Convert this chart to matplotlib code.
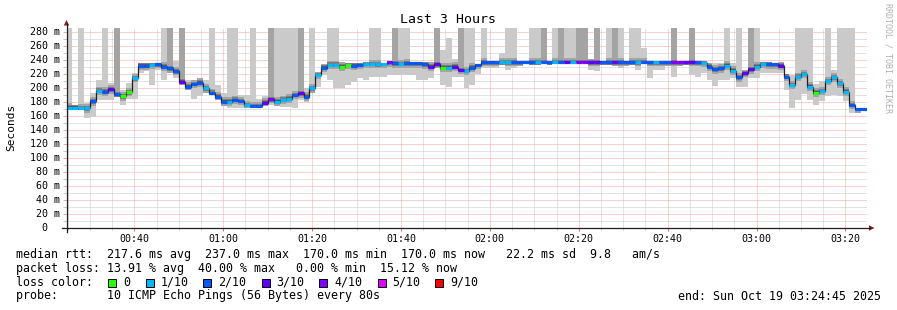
import matplotlib
matplotlib.use("Agg")
import matplotlib.pyplot as plt
import numpy as np
from matplotlib.lines import Line2D
from matplotlib.patches import Polygon, Rectangle
from matplotlib.ticker import FixedLocator, NullFormatter

W, H = 897, 310
MONO = "DejaVu Sans Mono"

# ---------------- data ----------------
start_min = 24.75          # 00:24:45
step_min = 80 / 60         # one sample every 80 s

median = [172, 172, 171, 171, 181, 196, 195, 198, 191, 188,
          194, 214, 232, 232, 233, 234, 230.5, 228, 224, 209,
          202, 205.7, 207.6, 199.5, 193, 187.6, 180.5, 180.5, 183, 181.4,
          175.7, 174.3, 174.3, 179, 184, 180.5, 183, 185, 190, 192.4,
          187.6, 199.5, 218.6, 229, 233, 233, 230.5, 233, 232, 233,
          234.3, 234.3, 234, 234.3, 236.6, 235.2, 234.3, 235.2, 235.2, 235.2,
          233.8, 230.5, 233.8, 229, 229, 230.5, 225.7, 224.3, 229, 232.9,
          237, 237, 237, 237, 237, 237, 237, 237, 237, 237,
          237, 237, 237, 237, 237, 237, 237, 237, 237, 237,
          237, 237, 237, 237, 237, 237, 237, 237, 237, 237,
          237, 237, 237, 237, 237, 237, 237, 236, 230.5, 226.7,
          228, 232, 224.8, 215.2, 221, 226.7, 230.5, 234.3, 233.8, 233.8,
          232, 216, 204.3, 216, 220, 202, 193.3, 195.7, 210, 215.2,
          206.7, 194.8, 175.7, 170, 170]

loss = [1, 1, 1, 1, 2, 1, 2, 3, 2, 0,
        0, 1, 2, 2, 1, 2, 2, 2, 2, 3,
        2, 2, 2, 1, 2, 2, 2, 1, 2, 2,
        1, 2, 2, 3, 4, 1, 1, 1, 2, 3,
        2, 1, 1, 2, 1, 1, 0, 0, 2, 2,
        1, 1, 1, 1, 4, 2, 1, 2, 2, 2,
        2, 3, 3, 0, 1, 3, 3, 1, 2, 2,
        2, 2, 2, 1, 1, 2, 2, 2, 2, 1,
        2, 2, 1, 2, 3, 1, 4, 4, 3, 3,
        2, 2, 3, 2, 2, 2, 1, 2, 2, 1,
        2, 2, 4, 4, 3, 3, 2, 1, 2, 2,
        2, 1, 1, 2, 3, 3, 1, 1, 2, 2,
        3, 2, 1, 1, 1, 1, 0, 1, 1, 1,
        1, 1, 2, 2, 2]

ping_lo = [169, 169, 169, 157, 159, 183, 183, 183, 187, 176,
           185, 185, 221, 224, 204, 226, 211, 222, 214, 204,
           197, 185, 188, 193, 190, 183, 174, 171, 171, 172,
           171, 171, 171, 174, 176, 174, 173, 173, 172, 183,
           179.5, 193, 202, 218.6, 211, 199.5, 199.5, 204, 209, 214,
           211, 216, 216, 216, 218.6, 218.6, 219, 219, 219, 211,
           211, 214, 228, 204, 202, 216, 216, 200, 205, 220,
           228, 228, 228, 233, 226, 229, 231, 234, 233, 233,
           235, 233, 234, 234, 235, 235, 236, 236, 226, 224,
           233, 233, 231, 229, 231, 233, 226, 234, 214, 226,
           226, 231, 215, 231, 233, 218.6, 216, 221, 211, 203,
           211, 211, 214, 202, 202, 214, 214, 221, 221, 221,
           221, 197, 171, 183, 192, 183, 176, 181, 188, 190,
           188, 181, 165, 165, 167]

ping_hi = [300, 176, 300, 178, 193, 211, 300, 207, 300, 197,
           207, 222, 235, 236, 236, 236, 300, 300, 238, 300,
           211, 211, 214, 211, 300, 204, 193, 300, 300, 190,
           190, 300, 184, 188, 300, 300, 300, 300, 300, 300,
           199.5, 300, 223, 234, 300, 300, 237, 236, 236, 236,
           237, 300, 300, 236, 239, 300, 300, 300, 237, 237,
           237, 237, 300, 254, 271, 242, 300, 300, 300, 234,
           300, 238, 238, 250, 300, 300, 238, 238, 300, 300,
           300, 238, 300, 300, 300, 300, 300, 300, 242, 300,
           238, 300, 300, 300, 238, 300, 300, 257, 238, 238,
           238, 238, 300, 238, 238, 300, 238, 238, 236, 235,
           235, 300, 236, 300, 226, 300, 300, 237, 237, 236,
           237, 220, 219, 300, 300, 300, 205, 210, 300, 226,
           300, 300, 300, 172, 172]

# samples where two pings lie above the chart
two_high = [8, 17, 19, 34, 39, 55, 62, 66, 80, 83, 86, 87, 89, 92, 102, 105, 115]

loss_levels = [0, 1, 2, 3, 4, 5, 9]
loss_labels = ["0", "1/10", "2/10", "3/10", "4/10", "5/10", "9/10"]
loss_hex = ["#26ff00", "#00b8ff", "#0059ff", "#5e00ff", "#7e00ff", "#dd00ff", "#ff0000"]

y_major = list(range(0, 281, 20))
y_minor = list(range(10, 281, 20))
x_major = [40, 60, 80, 100, 120, 140, 160, 180, 200]
x_minor = [m for m in range(25, 205, 5) if m % 20 != 0]

title = "Last 3 Hours"
line_rtt = "median rtt:  217.6 ms avg  237.0 ms max  170.0 ms min  170.0 ms now   22.2 ms sd  9.8   am/s"
line_loss = "packet loss: 13.91 % avg  40.00 % max   0.00 % min  15.12 % now"
line_probe = "probe:       10 ICMP Echo Pings (56 Bytes) every 80s"
line_end = "end: Sun Oct 19 03:24:45 2025"

# ---------------- figure ----------------
def fx(px):
    return px / W

def fy(py):
    return 1 - py / H

fig = plt.figure(figsize=(W / 100, H / 100), dpi=100)
fig.patch.set_facecolor("white")
ax = fig.add_axes([fx(66.5), fy(228), 800 / W, 200 / H])
ax.set_facecolor("white")
n = len(median)
ax.set_xlim(start_min, start_min + n * step_min)
ax.set_ylim(0, 200 / 0.7)
for s in ax.spines.values():
    s.set_visible(False)

GRID = "#c8c8c8"
MGRID = "#f2a4a4"
dots = (0, (1, 1))

ax.xaxis.set_major_locator(FixedLocator(x_major))
ax.xaxis.set_minor_locator(FixedLocator(x_minor))
ax.yaxis.set_major_locator(FixedLocator(y_major))
ax.yaxis.set_minor_locator(FixedLocator(y_minor))
ax.xaxis.set_major_formatter(NullFormatter())
ax.yaxis.set_major_formatter(NullFormatter())
ax.grid(which="minor", color=GRID, linestyle=dots, linewidth=0.72)
ax.grid(which="major", color=MGRID, linestyle=dots, linewidth=0.72)
ax.set_axisbelow(True)
ax.tick_params(axis="x", which="major", direction="out", length=2.2, width=0.72, color="#e07070")
ax.tick_params(axis="x", which="minor", direction="out", length=1.5, width=0.72, color=GRID)
ax.tick_params(axis="y", which="major", direction="out", length=3, width=0.72, color=MGRID)
ax.tick_params(axis="y", which="minor", direction="out", length=3, width=0.72, color=GRID)

t = start_min + np.arange(n) * step_min
med = np.array(median, float)
lo = np.array(ping_lo, float)
hi = np.array(ping_hi, float)
top = ax.get_ylim()[1] + 5

bk = dict(width=step_min, align="edge", linewidth=0, antialiased=False)
ax.bar(t, hi - lo, bottom=lo, color="#cacaca", zorder=2, **bk)
idx = np.array(two_high)
ax.bar(t[idx], top - (med[idx] + 2), bottom=med[idx] + 2, color="#a4a4a4", zorder=2.5, **bk)
for half, col in [(6, "#a4a4a4"), (3.5, "#7e7e7e"), (1.8, "#585858")]:
    b = np.maximum(lo, med - half)
    tp = np.minimum(hi, med + half)
    ax.bar(t, tp - b, bottom=b, color=col, zorder=3, **bk)

edges = np.append(t, t[-1] + step_min)
ax.stairs(med, edges, baseline=None, color="#202020", linewidth=0.9, zorder=4)
cmap = dict(zip(loss_levels, loss_hex))
ax.hlines(med, t, t + step_min, colors=[cmap[c] for c in loss], linewidth=2.3,
          zorder=5, capstyle="butt")

# axis tick labels
for m in x_major:
    ax.text(m, -10.5 / 200, f"{m // 60:02d}:{m % 60:02d}", transform=ax.get_xaxis_transform(),
            ha="center", va="center", fontsize=7.2, family=MONO, color="black")
ytr = ax.get_yaxis_transform()
for v in y_major:
    if v == 0:
        ax.text((47.8 - 66.5) / 800, v, "0", transform=ytr, ha="right", va="center",
                fontsize=7.2, family=MONO)
    else:
        ax.text((59.8 - 66.5) / 800, v, f"{v} m", transform=ytr, ha="right", va="center",
                fontsize=7.2, family=MONO)

# axis lines and arrows
AX = (0.12, 0.12, 0.12, 1)
ARROW = (0.5, 0.12, 0.12, 1)
fig.add_artist(Line2D([fx(62), fx(870)], [fy(228), fy(228)], color=AX, linewidth=0.9))
fig.add_artist(Line2D([fx(66.5), fx(66.5)], [fy(232), fy(24)], color=AX, linewidth=0.9))
fig.add_artist(Polygon([[fx(869), fy(225.3)], [fx(874.5), fy(228)], [fx(869), fy(230.7)]],
                       closed=True, transform=fig.transFigure, color=ARROW, lw=0))
fig.add_artist(Polygon([[fx(63.8), fy(25.5)], [fx(66.5), fy(20)], [fx(69.2), fy(25.5)]],
                       closed=True, transform=fig.transFigure, color=ARROW, lw=0))

# titles
fig.text(fx(448), fy(19.5), title, ha="center", va="center", fontsize=9.5, family=MONO)
fig.text(fx(11), fy(127), "Seconds", ha="center", va="center", rotation=90,
         fontsize=8, family=MONO)
fig.text(fx(887.5), fy(58), "RRDTOOL / TOBI OETIKER", ha="center", va="center",
         rotation=270, fontsize=6, family=MONO, color="#b0b0b0")

# legend block
LF = 8.4
fig.text(fx(16), fy(258.3), line_rtt, ha="left", va="baseline", fontsize=LF, family=MONO)
fig.text(fx(16), fy(272), line_loss, ha="left", va="baseline", fontsize=LF, family=MONO)
fig.text(fx(16), fy(285.7), "loss color:", ha="left", va="baseline", fontsize=LF, family=MONO)
box_x = [108, 145.7, 203, 261.7, 319.3, 377.7, 435]
for bx, lab, col in zip(box_x, loss_labels, loss_hex):
    fig.add_artist(Rectangle((fx(bx), fy(286.5)), 8 / W, 8 / H, transform=fig.transFigure,
                             facecolor=col, edgecolor="black", linewidth=0.7))
    fig.text(fx(bx + 15), fy(285.7), lab, ha="left", va="baseline", fontsize=LF, family=MONO)
fig.text(fx(16), fy(299.5), line_probe, ha="left", va="baseline", fontsize=LF, family=MONO)
fig.text(fx(880.5), fy(299.5), line_end, ha="right", va="baseline", fontsize=LF, family=MONO)

fig.savefig("out.png", dpi=100, facecolor="white")
